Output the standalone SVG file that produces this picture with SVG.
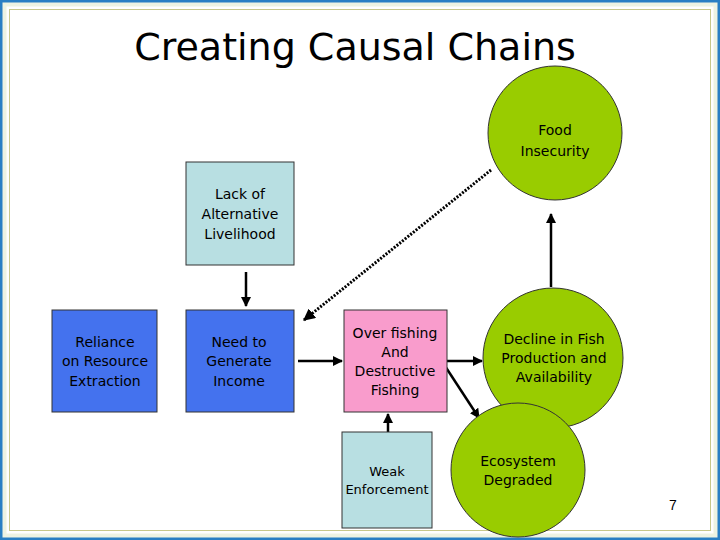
<svg xmlns="http://www.w3.org/2000/svg" width="720" height="540" viewBox="0 0 720 540">
<defs>
<marker id="ah" viewBox="0 0 10 10" refX="9" refY="5" markerWidth="4" markerHeight="4" orient="auto"><path d="M0,0L10,5L0,10z" fill="#000"/></marker>
<style>
text{font-family:"DejaVu Sans",sans-serif;font-size:14px;text-anchor:middle;fill:#000}
.box{stroke:#333;stroke-width:1}
.c{fill:#99cc00;stroke:#333;stroke-width:1}
.a{stroke:#000;stroke-width:2.5;fill:none;marker-end:url(#ah)}
</style>
</defs>
<rect x="0" y="0" width="720" height="540" fill="#fff"/>
<rect x="1.5" y="1.5" width="717" height="537" fill="none" stroke="#2a7fc4" stroke-width="3"/>
<rect x="4.5" y="4.5" width="711" height="531" fill="none" stroke="#eef3e2" stroke-width="4"/>
<rect x="9.5" y="9.5" width="701" height="521" fill="none" stroke="#c8c88a" stroke-width="1"/>
<text x="355" y="60" style="font-size:38px">Creating Causal Chains</text>
<g id="connectors">
<path class="a" d="M246,272V306"/>
<path class="a" d="M298,361H342"/>
<path class="a" d="M447,361H482"/>
<path class="a" d="M445,366L479,418"/>
<path class="a" d="M388,432V414"/>
<path class="a" d="M551,287V214"/>
<path d="M491,170L304,320" stroke="#000" stroke-width="3" stroke-dasharray="2,1.5" fill="none" marker-end="url(#ah)"/>
</g>
<g id="food"><circle class="c" cx="555" cy="133" r="67"/><text x="555" y="135">Food</text><text x="555" y="156">Insecurity</text></g>
<g id="lack"><rect class="box" x="186" y="162" width="108" height="103" fill="#b8dfe2"/><text x="240" y="199">Lack of</text><text x="240" y="219">Alternative</text><text x="240" y="239">Livelihood</text></g>
<g id="reliance"><rect class="box" x="52" y="310" width="105" height="102" fill="#4472ee"/><text x="105" y="347">Reliance</text><text x="105" y="366">on Resource</text><text x="105" y="386">Extraction</text></g>
<g id="need"><rect class="box" x="186" y="310" width="108" height="102" fill="#4472ee"/><text x="239" y="347">Need to</text><text x="239" y="366">Generate</text><text x="239" y="386">Income</text></g>
<g id="over"><rect class="box" x="344" y="310" width="103" height="102" fill="#f99ccc"/><text x="395" y="338">Over fishing</text><text x="395" y="357">And</text><text x="395" y="376">Destructive</text><text x="395" y="395">Fishing</text></g>
<g id="weak"><rect class="box" x="342" y="432" width="90" height="96" fill="#b8dfe2"/><text x="387" y="476" style="font-size:13px">Weak</text><text x="387" y="494" style="font-size:13px">Enforcement</text></g>
<g id="decline"><circle class="c" cx="553" cy="358" r="70"/><text x="554" y="344">Decline in Fish</text><text x="554" y="363">Production and</text><text x="554" y="382">Availability</text></g>
<g id="eco"><circle class="c" cx="518" cy="470" r="67"/><text x="518" y="466">Ecosystem</text><text x="518" y="485">Degraded</text></g>
<text x="673" y="510" style="font-family:'Liberation Sans',sans-serif">7</text>
</svg>
